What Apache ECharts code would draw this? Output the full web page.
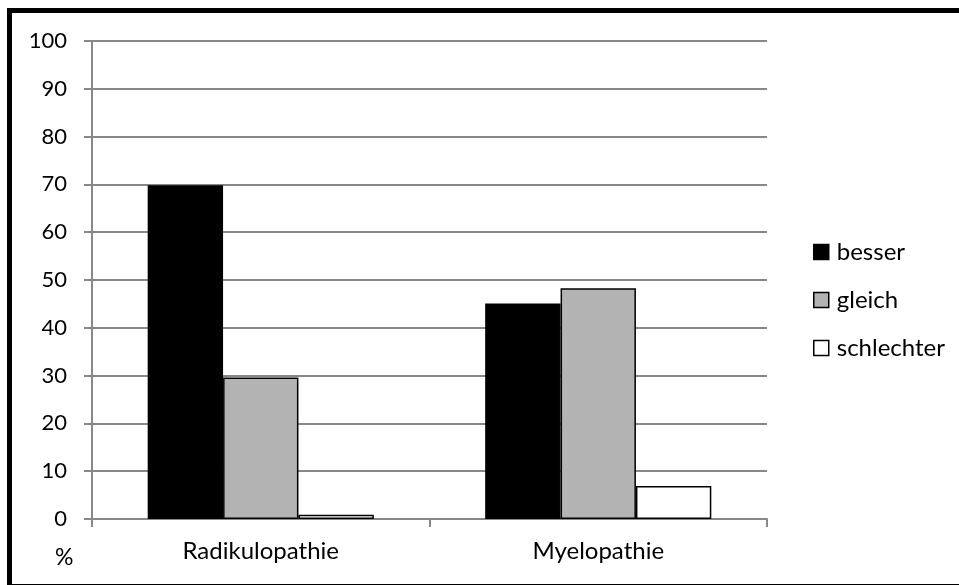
<!DOCTYPE html>
<html>
<head>
<meta charset="utf-8">
<script src="https://cdn.jsdelivr.net/npm/echarts@6/dist/echarts.min.js"></script>
<style>
  html, body { margin: 0; padding: 0; background: #fff; }
  #chart { width: 959px; height: 585px; }
</style>
</head>
<body>
<div id="chart"></div>
<script>
// Outcome categories and percentages per group
const categories = ['Radikulopathie', 'Myelopathie'];
const besser = [69.8, 45.1];
const gleich = [29.6, 48.3];
const schlechter = [0.9, 6.9];
const yTicks = { min: 0, max: 100, interval: 10 };

const FONT = 'Lato';
const TEXT = '#000000';
const GRID = '#888888';

const chart = echarts.init(document.getElementById('chart'), null, { renderer: 'canvas' });

function barSeries(name, data, fill) {
  return {
    name: name,
    type: 'bar',
    data: data,
    barGap: '0%',
    barCategoryGap: '33%',
    itemStyle: { color: fill, borderColor: '#000', borderWidth: 1.5 }
  };
}

chart.setOption({
  animation: false,
  backgroundColor: '#fff',
  textStyle: { fontFamily: FONT },
  grid: { left: 92, right: 192, top: 41, bottom: 66, containLabel: false },
  legend: {
    orient: 'vertical',
    left: 808,
    top: 235,
    itemWidth: 15,
    itemHeight: 15,
    itemGap: 24,
    icon: 'rect',
    textStyle: { fontFamily: FONT, fontSize: 24, color: TEXT, lineHeight: 24, padding: [0, 0, 0, 3] },
    itemStyle: { borderColor: '#000', borderWidth: 1.5 },
    data: ['besser', 'gleich', 'schlechter']
  },
  xAxis: {
    type: 'category',
    data: categories,
    axisLine: { show: true, lineStyle: { color: GRID, width: 2 } },
    axisTick: { show: true, alignWithLabel: false, length: 8, lineStyle: { color: GRID, width: 2 } },
    axisLabel: { fontFamily: FONT, fontSize: 24, color: TEXT, margin: 20 }
  },
  yAxis: {
    type: 'value',
    min: yTicks.min,
    max: yTicks.max,
    interval: yTicks.interval,
    axisLine: { show: true, lineStyle: { color: GRID, width: 2 } },
    axisTick: { show: true, length: 8, lineStyle: { color: GRID, width: 2 } },
    axisLabel: { fontFamily: FONT, fontSize: 22, color: TEXT, margin: 25 },
    splitLine: { show: true, lineStyle: { color: GRID, width: 2 } }
  },
  graphic: [
    {
      type: 'rect',
      shape: { x: 9.5, y: 10.5, width: 960, height: 576 },
      style: { fill: 'none', stroke: '#000', lineWidth: 5 },
      silent: true
    },
    {
      type: 'text',
      left: 55,
      top: 546,
      style: { text: '%', fontFamily: FONT, fontSize: 23, fill: TEXT }
    }
  ],
  series: [
    barSeries('besser', besser, '#000000'),
    barSeries('gleich', gleich, '#b3b3b3'),
    barSeries('schlechter', schlechter, '#ffffff')
  ]
});
</script>
</body>
</html>
